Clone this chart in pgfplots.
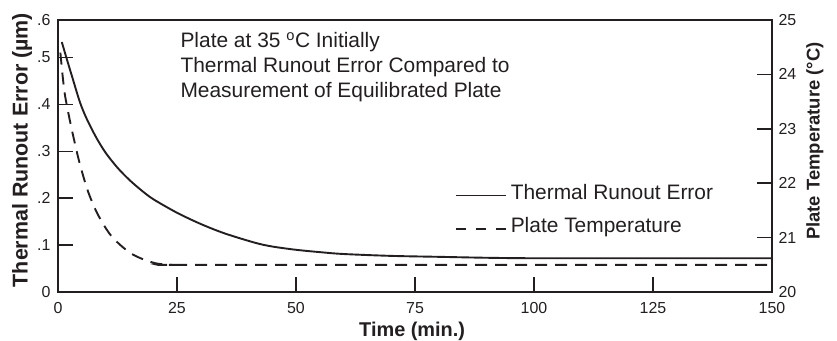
\documentclass[border=0pt]{standalone}
\usepackage{fontspec}
\setmainfont{Liberation Sans}
\usepackage{pgfplots}
\pgfplotsset{compat=1.18}
\definecolor{ink}{HTML}{231F20}
\pgfplotstableread{
t v
0.8 0.533
1.9 0.495
3.0 0.458
4.6 0.405
6.0 0.370
8.0 0.330
10.0 0.297
12.5 0.265
15.0 0.239
17.5 0.217
20.0 0.198
25 0.169
30 0.145
35 0.125
41.4 0.105
45 0.097
50 0.090
55 0.085
60 0.081
70 0.077
80 0.075
90 0.073
100 0.072
125 0.072
150 0.072
}\runout
\pgfplotstableread{
t T
0.5 24.40
1.0 23.95
1.5 23.60
2.5 23.15
3.5 22.75
4.6 22.35
6.3 21.85
8.4 21.42
11.3 21.02
15.5 20.70
20.4 20.53
24.6 20.50
30 20.50
150 20.50
}\platetemp
\begin{document}
\begin{tikzpicture}
\useasboundingbox (-58bp,-49bp) rectangle (779bp,292bp);
\begin{axis}[
  scale only axis, width=714bp, height=272bp,
  xmin=0, xmax=150, ymin=0, ymax=0.58,
  xtick={0,25,...,150},
  ytick={0,0.1,0.2,0.3,0.4,0.5,0.58},
  yticklabels={0,.1,.2,.3,.4,.5,.6},
  xtick pos=left, ytick pos=left,
  tick align=inside, major tick length=15bp,
  axis line style={ink, line width=1.6bp},
  every tick/.style={ink, line width=1.6bp},
  every tick label/.append style={font=\fontsize{16}{18}\selectfont, text=ink},
  xticklabel style={yshift=-7bp},
  yticklabel style={xshift=-4bp},
  /pgf/number format/assume math mode=true,
  xlabel={Time (min.)},
  ylabel={Thermal Runout Error (µm)},
  xlabel style={font=\bfseries\fontsize{20}{24}\selectfont, text=ink, at={(axis description cs:0.496,-0.145)}, anchor=center},
  ylabel style={font=\bfseries\fontsize{21.5}{24}\selectfont, text=ink, at={(axis description cs:-0.0504,0.522)}, anchor=center},
]
\addplot[ink, line width=1.9bp, smooth, tension=0.5] table[x=t, y=v] {\runout};
\end{axis}
\begin{axis}[
  scale only axis, width=714bp, height=272bp,
  xmin=0, xmax=150, ymin=20, ymax=25,
  axis x line=none, axis y line*=right,
  ytick={20,21,22,23,24,25},
  tick align=inside, major tick length=15bp,
  axis line style={ink, line width=1.6bp},
  every tick/.style={ink, line width=1.6bp},
  every tick label/.append style={font=\fontsize{16}{18}\selectfont, text=ink},
  yticklabel style={xshift=3bp},
  /pgf/number format/assume math mode=true,
  ylabel={Plate Temperature (°C)},
  ylabel style={font=\bfseries\fontsize{18.5}{22}\selectfont, text=ink, at={(axis description cs:1.060,0.555)}, anchor=center, rotate=0},
  legend style={draw=none, fill=none, inner sep=0pt, font=\fontsize{21}{25}\selectfont, text=ink,
    at={(axis description cs:0.556,0.405)}, anchor=north west, row sep=13bp,
    nodes={inner xsep=4bp}},
  legend cell align=left,
  legend image code/.code={\draw[#1] (0bp,-3bp) -- (50bp,-3bp);},
]
\addlegendimage{ink, line width=1.6bp}
\addlegendimage{ink, line width=1.6bp, dash pattern=on 10bp off 10bp}
\legend{Thermal Runout Error, Plate Temperature}
\addplot[ink, line width=1.9bp, dash pattern=on 12bp off 8bp, smooth, tension=0.5, forget plot] table[x=t, y=T] {\platetemp};
\end{axis}
\node[anchor=base west, font=\fontsize{21}{25}\selectfont, text=ink] at (119bp,244bp) {Plate at 35 \textsuperscript{o}C Initially};
\node[anchor=base west, font=\fontsize{21}{25}\selectfont, text=ink] at (119bp,219bp) {Thermal Runout Error Compared to};
\node[anchor=base west, font=\fontsize{21}{25}\selectfont, text=ink] at (119bp,194bp) {Measurement of Equilibrated Plate};
\end{tikzpicture}
\end{document}
